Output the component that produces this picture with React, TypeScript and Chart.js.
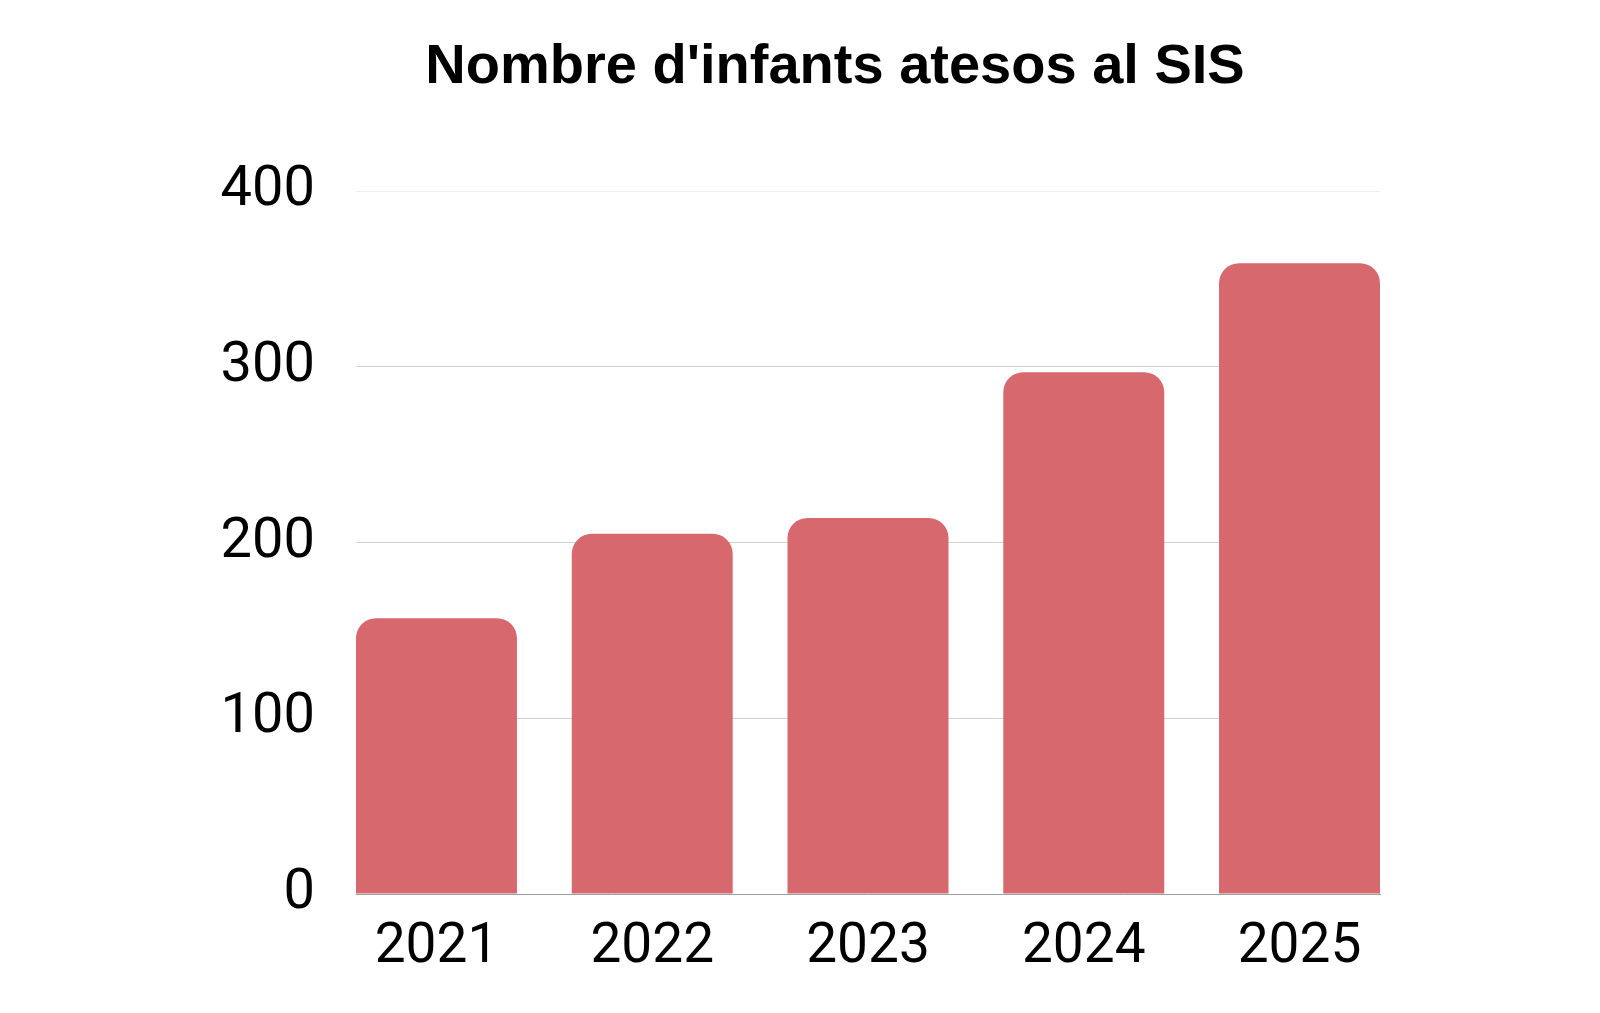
import React, { useEffect, useRef } from "react";
import { Chart, registerables } from "chart.js";

Chart.register(...registerables);

const TITLE = "Nombre d'infants atesos al SIS";
const years = [2021, 2022, 2023, 2024, 2025];
const values = [157, 205, 214, 297, 359];
const yTicks = [0, 100, 200, 300, 400];

const BAR_COLOR = "#d6686e";
const EDGE = 0.373;

export default function App() {
  const ref = useRef<HTMLCanvasElement | null>(null);

  useEffect(() => {
    if (!ref.current) return;
    const chart = new Chart(ref.current, {
      type: "bar",
      data: {
        labels: years,
        datasets: [
          {
            data: values,
            backgroundColor: BAR_COLOR,
            borderWidth: 0,
            borderRadius: 20,
            categoryPercentage: 1,
            barPercentage: 0.746,
          },
        ],
      },
      options: {
        animation: false,
        responsive: true,
        maintainAspectRatio: false,
        layout: { padding: { left: 206, right: 136, top: 0, bottom: 11 } },
        plugins: {
          legend: { display: false },
          tooltip: { enabled: false },
          title: {
            display: true,
            text: TITLE,
            color: "#000000",
            font: { family: "'Liberation Sans', Arial, sans-serif", size: 56, weight: "bold", lineHeight: 1.2 },
            padding: { top: 34, bottom: 90 },
          },
        },
        scales: {
          x: {
            type: "linear",
            offset: false,
            min: years[0] - EDGE,
            max: years[years.length - 1] + EDGE,
            grid: { display: false, drawTicks: false },
            border: { display: true, color: "#9e9e9e", width: 1 },
            ticks: {
              stepSize: 1,
              includeBounds: false,
              autoSkip: false,
              maxRotation: 0,
              padding: 21,
              color: "#000000",
              font: { family: "Roboto, sans-serif", size: 55, lineHeight: 1.2 },
              callback: (v: any) => (years.includes(Number(v)) ? String(v) : ""),
            },
          },
          y: {
            min: yTicks[0],
            max: yTicks[yTicks.length - 1],
            afterFit: (scale: any) => {
              scale.width = 150;
            },
            afterBuildTicks: (scale: any) => {
              scale.ticks = yTicks.map((v) => ({ value: v }));
            },
            grid: {
              drawTicks: false,
              color: (ctx: any) => {
                const v = ctx.tick ? ctx.tick.value : null;
                if (v === 0) return "rgba(0,0,0,0)";
                if (v === 400) return "#eeeeee";
                return "#d0d0d0";
              },
              lineWidth: 1,
            },
            border: { display: false },
            ticks: {
              padding: 41,
              color: "#000000",
              font: { family: "Roboto, sans-serif", size: 56, lineHeight: 1.2 },
              callback: (v: any) => String(v),
            },
          },
          ySpacer: {
            type: "linear",
            position: "right",
            display: true,
            afterFit: (scale: any) => {
              scale.width = 84;
            },
            grid: { display: false, drawTicks: false },
            border: { display: false },
            ticks: { display: false },
          },
        },
      },
    });
    return () => chart.destroy();
  }, []);

  return (
    <div style={{ position: "absolute", left: 0, top: 0, width: 1600, height: 1013 }}>
      <canvas ref={ref} />
    </div>
  );
}
